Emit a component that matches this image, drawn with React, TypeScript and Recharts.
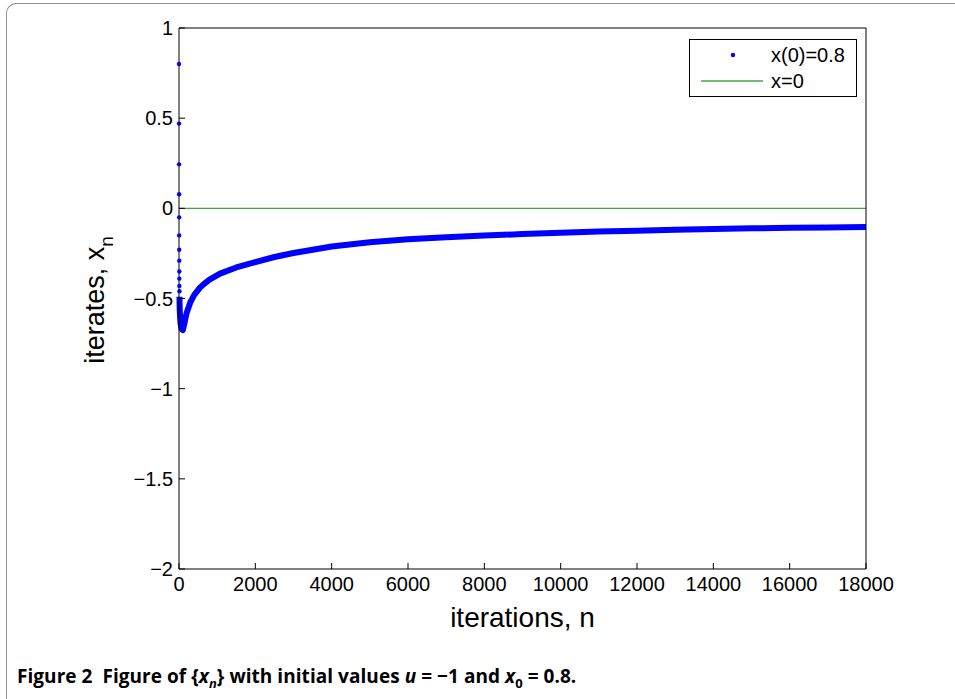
import { ComposedChart, Line, Scatter, XAxis, YAxis } from "recharts";

// first iterates, drawn as separate dots (n = 0..11)
const earlyN = [0, 1, 2, 3, 4, 5, 6, 7, 8, 9, 10, 11];
const earlyX = [0.8, 0.47, 0.244, 0.078, -0.05, -0.15, -0.23, -0.29, -0.35, -0.39, -0.43, -0.46];

// the rest of the iterates
const curveN = [
  12, 20, 40, 70, 100, 150, 200, 300, 400, 550, 650, 800, 1074, 1500, 2000, 2500, 3000, 4000, 5000,
  6000, 7000, 8000, 9000, 10000, 11000, 12000, 13000, 14000, 15000, 16000, 17000, 18000
];
const curveX = [
  -0.49, -0.57, -0.64, -0.67, -0.675, -0.63, -0.58, -0.52, -0.48, -0.44, -0.42, -0.395, -0.362,
  -0.328, -0.298, -0.27, -0.248, -0.212, -0.188, -0.172, -0.161, -0.151, -0.143, -0.135, -0.129,
  -0.124, -0.119, -0.115, -0.111, -0.108, -0.106, -0.103
];

const baseN = [0, 18000];
const baseX = [0, 0];

const xTicks = [0, 2000, 4000, 6000, 8000, 10000, 12000, 14000, 16000, 18000];
const yTicks = [-2, -1.5, -1, -0.5, 0, 0.5, 1];

const earlyData = earlyN.map((n, i) => ({ n, x: earlyX[i] }));
const curveData = curveN.map((n, i) => ({ n, x: curveX[i] }));
const baseData = baseN.map((n, i) => ({ n, x: baseX[i] }));

const font = "'Liberation Sans', Arial, sans-serif";
const blue = "#0000ff";
const green = "#46a346";

const fmtY = (v: number) => (v < 0 ? "\u2212" + Math.abs(v) : String(v));

const Dot = (props: any) => <circle cx={props.cx} cy={props.cy} r={2.2} fill={blue} />;

const XLabel = (props: any) => {
  const vb = props.viewBox;
  return (
    <text x={vb.x + vb.width / 2} y={627} textAnchor="middle" fontSize={28} fontFamily={font} fill="#000">
      iterations, n
    </text>
  );
};

const YLabel = () => (
  <text
    transform="translate(104,300) rotate(-90)"
    textAnchor="middle"
    fontSize={27}
    fontFamily={font}
    fill="#000"
  >
    iterates, x
    <tspan fontSize={19} dy={9}>
      n
    </tspan>
  </text>
);

export default function App() {
  return (
    <div
      style={{
        position: "absolute",
        left: 0,
        top: 0,
        width: 955,
        height: 699,
        overflow: "hidden",
        background: "#fff"
      }}
    >
      <div
        style={{
          position: "absolute",
          left: 6,
          top: 3,
          width: 1000,
          height: 800,
          borderTop: "1.5px solid #8e8e8e",
          borderLeft: "1.5px solid #8e8e8e",
          borderTopLeftRadius: 10
        }}
      />
      <div style={{ position: "absolute", left: 0, top: 0 }}>
        <ComposedChart
          width={955}
          height={640}
          margin={{ top: 27, right: 88, left: 119, bottom: 41 }}
          style={{ fontFamily: font }}
        >
          <XAxis
            xAxisId="b"
            dataKey="n"
            type="number"
            domain={[0, 18000]}
            ticks={xTicks}
            interval={0}
            height={30}
            tickSize={-6}
            tickMargin={14}
            stroke="#000"
            tick={{ fill: "#000", fontSize: 20 }}
            label={<XLabel />}
          />
          <XAxis
            xAxisId="t"
            orientation="top"
            dataKey="n"
            type="number"
            domain={[0, 18000]}
            ticks={xTicks}
            interval={0}
            height={1}
            tickSize={-6}
            tick={false}
            stroke="#000"
          />
          <YAxis
            yAxisId="l"
            dataKey="x"
            type="number"
            domain={[-2, 1]}
            ticks={yTicks}
            interval={0}
            width={60}
            tickSize={-6}
            tickMargin={12}
            tickFormatter={fmtY}
            stroke="#000"
            tick={{ fill: "#000", fontSize: 20 }}
            label={<YLabel />}
          />
          <YAxis
            yAxisId="r"
            orientation="right"
            dataKey="x"
            type="number"
            domain={[-2, 1]}
            ticks={yTicks}
            interval={0}
            width={1}
            tickSize={-6}
            tick={false}
            stroke="#000"
          />
          <Line
            xAxisId="b"
            yAxisId="l"
            data={baseData}
            dataKey="x"
            stroke={green}
            strokeWidth={1.3}
            dot={false}
            isAnimationActive={false}
          />
          <Line
            xAxisId="b"
            yAxisId="l"
            data={curveData}
            dataKey="x"
            stroke={blue}
            strokeWidth={6}
            strokeLinejoin="round"
            dot={false}
            isAnimationActive={false}
          />
          <Scatter
            xAxisId="b"
            yAxisId="l"
            data={earlyData}
            dataKey="x"
            fill={blue}
            shape={<Dot />}
            isAnimationActive={false}
          />
        </ComposedChart>
      </div>
      <div
        style={{
          position: "absolute",
          left: 689,
          top: 39,
          width: 168,
          height: 58,
          boxSizing: "border-box",
          border: "1px solid #000",
          background: "#fff"
        }}
      >
        <svg width={168} height={58} style={{ position: "absolute", left: -1, top: -1 }}>
          <circle cx={44} cy={16} r={2.2} fill={blue} />
          <line x1={12} x2={74} y1={42} y2={42} stroke={green} strokeWidth={1.3} />
          <text x={82} y={23} fontSize={20} fontFamily={font} fill="#000">
            x(0)=0.8
          </text>
          <text x={82} y={49} fontSize={20} fontFamily={font} fill="#000">
            x=0
          </text>
        </svg>
      </div>
      <div
        style={{
          position: "absolute",
          left: 17,
          top: 663,
          fontFamily: "'Open Sans', 'Noto Sans', sans-serif",
          fontWeight: 700,
          fontSize: 19,
          letterSpacing: 0.05,
          color: "#000",
          whiteSpace: "nowrap"
        }}
      >
        Figure 2&nbsp; Figure of {"{"}
        <i>x</i>
        <sub style={{ fontSize: 13 }}>
          <i>n</i>
        </sub>
        {"}"} with initial values <i>u</i> = {"\u2212"}1 and <i>x</i>
        <sub style={{ fontSize: 13 }}>0</sub> = 0.8.
      </div>
    </div>
  );
}
